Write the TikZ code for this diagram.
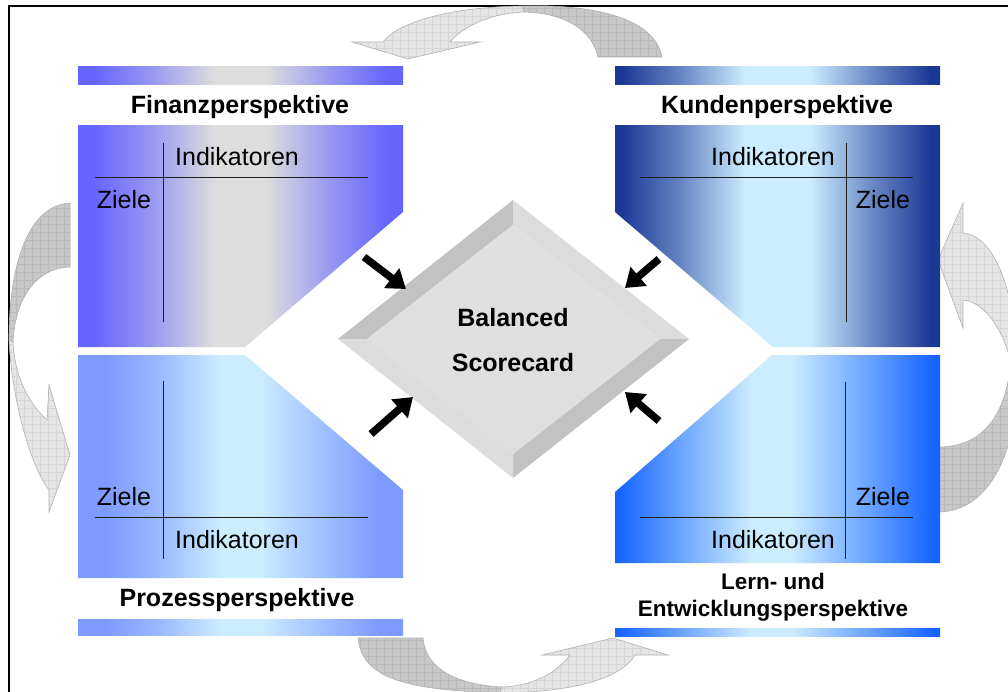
\documentclass[tikz,border=0pt]{standalone}
\usepackage{fontspec}
\setmainfont{Liberation Sans}
\usetikzlibrary{arrows.meta}
\definecolor{fblue}{HTML}{6666FF}
\definecolor{fgray}{HTML}{DDDDDD}
\definecolor{pblue}{HTML}{7C9AFF}
\definecolor{lcyan}{HTML}{CCECFF}
\definecolor{kblue}{HTML}{1C3896}
\definecolor{lblue}{HTML}{1464FF}
\definecolor{arrlight}{HTML}{E5E5E5}
\definecolor{arrlightgrid}{HTML}{D6D6D6}
\definecolor{arrdark}{HTML}{C8C8C8}
\definecolor{arrdarkgrid}{HTML}{B9B9B9}
\definecolor{arredge}{HTML}{B2B2B2}
\definecolor{facetdark}{HTML}{C2C2C2}
\definecolor{facetlight}{HTML}{DCDCDC}
\colorlet{fmix}{fblue!60!fgray}
\colorlet{pmix}{pblue!62!lcyan}
\colorlet{kmix}{kblue!58!lcyan}
\colorlet{lmix}{lblue!58!lcyan}
\pgfdeclarehorizontalshading{finanzsh}{100bp}{color(0bp)=(fblue); color(27.5bp)=(fblue); color(36bp)=(fmix); color(46bp)=(fgray); color(54bp)=(fgray); color(64bp)=(fmix); color(72.5bp)=(fblue); color(100bp)=(fblue)}
\pgfdeclarehorizontalshading{prozesssh}{100bp}{color(0bp)=(pblue); color(29bp)=(pblue); color(37.5bp)=(pmix); color(47bp)=(lcyan); color(53bp)=(lcyan); color(64bp)=(pmix); color(71.5bp)=(pblue); color(100bp)=(pblue)}
\pgfdeclarehorizontalshading{kundensh}{100bp}{color(0bp)=(kblue); color(26bp)=(kblue); color(35bp)=(kmix); color(45bp)=(lcyan); color(55bp)=(lcyan); color(65bp)=(kmix); color(73.5bp)=(kblue); color(100bp)=(kblue)}
\pgfdeclarehorizontalshading{lernsh}{100bp}{color(0bp)=(lblue); color(25.5bp)=(lblue); color(34bp)=(lmix); color(46bp)=(lcyan); color(52bp)=(lcyan); color(65bp)=(lmix); color(74bp)=(lblue); color(100bp)=(lblue)}
\tikzset{
  lbl/.style={font=\fontsize{25}{30}\selectfont, inner sep=0pt},
  ttl/.style={font=\fontsize{25}{30}\selectfont\bfseries, inner sep=0pt},
  tline/.style={line width=1pt, draw=black!88},
  arrout/.style={draw=arredge, line width=0.6pt},
  gridlight/.style={draw=arrlightgrid, line width=0.6pt},
  griddark/.style={draw=arrdarkgrid, line width=0.6pt},
  blackarr/.style={line width=7.5pt, -{Triangle[length=18pt,width=24pt]}},
}
\begin{document}
\begin{tikzpicture}[x=1pt,y=-1pt]
\useasboundingbox (0,0) rectangle (1008,691);
\clip (0,0) rectangle (1008,691);
\fill[white] (0,0) rectangle (1008,691);
% frame
\draw[line width=2pt] (9,700) -- (9,6) -- (1030,6);

% ---------- gray cycle arrows ----------
\def\TopLight{(352,42) -- (383,42) .. controls (398,22) and (450,7) .. (522,6) -- (524,12) .. controls (495,13) and (465,24) .. (450,42) -- (480,42) -- (408,59) -- cycle}
\def\TopDark{(522,6) .. controls (600,4) and (655,20) .. (662,57) -- (598,57) .. controls (592,30) and (565,13) .. (524,12) -- cycle}
\def\LeftDark{(70,203) .. controls (30,205) and (9,260) .. (9,340) -- (13,342) .. controls (15,300) and (35,268) .. (70,267) -- cycle}
\def\LeftLight{(9,340) .. controls (12,400) and (30,465) .. (49,490) -- (49,512) -- (70,455) -- (49,385) -- (47,420) .. controls (25,400) and (14,370) .. (13,342) -- cycle}
\def\BotDark{(358,638) .. controls (362,680) and (410,690) .. (500,693) -- (502,687) .. controls (450,684) and (425,665) .. (423,638) -- cycle}
\def\BotLight{(500,693) .. controls (570,692) and (620,680) .. (635,655) -- (668,655) -- (613,638) -- (542,655) -- (570,655) .. controls (555,675) and (530,686) .. (502,687) -- cycle}
\def\RightLight{(938,260) -- (963,203) -- (963,233) .. controls (995,236) and (1014,290) .. (1018,362) -- (1011,362) .. controls (1003,330) and (985,302) .. (963,300) -- (963,328) -- cycle}
\def\RightDark{(1011,362) .. controls (1005,420) and (980,447) .. (938,447) -- (938,512) .. controls (990,512) and (1020,450) .. (1018,362) -- cycle}

\begin{scope}\clip \TopLight; \fill[arrlight] (330,0) rectangle (700,80); \draw[gridlight, step=8pt] (328,0) grid (704,80); \end{scope}
\draw[arrout] \TopLight;
\begin{scope}\clip \TopDark; \fill[arrdark] (330,0) rectangle (700,80); \draw[griddark, step=8pt] (328,0) grid (704,80); \end{scope}
\draw[arrout] \TopDark;
\begin{scope}\clip \LeftDark; \fill[arrdark] (0,190) rectangle (90,530); \draw[griddark, step=8pt] (0,184) grid (96,536); \end{scope}
\draw[arrout] \LeftDark;
\begin{scope}\clip \LeftLight; \fill[arrlight] (0,190) rectangle (90,530); \draw[gridlight, step=8pt] (0,184) grid (96,536); \end{scope}
\draw[arrout] \LeftLight;
\begin{scope}\clip \BotDark; \fill[arrdark] (340,620) rectangle (700,700); \draw[griddark, step=8pt] (336,616) grid (704,704); \end{scope}
\draw[arrout] \BotDark;
\begin{scope}\clip \BotLight; \fill[arrlight] (340,620) rectangle (700,700); \draw[gridlight, step=8pt] (336,616) grid (704,704); \end{scope}
\draw[arrout] \BotLight;
\begin{scope}\clip \RightLight; \fill[arrlight] (920,190) rectangle (1030,530); \draw[gridlight, step=8pt] (920,184) grid (1032,536); \end{scope}
\draw[arrout] \RightLight;
\begin{scope}\clip \RightDark; \fill[arrdark] (920,190) rectangle (1030,530); \draw[griddark, step=8pt] (920,184) grid (1032,536); \end{scope}
\draw[arrout] \RightDark;

% ---------- panels ----------
% Finanz
\shade[shading=finanzsh] (78,66) rectangle (403,84);
\shade[shading=finanzsh] (78,125) -- (403,125) -- (403,212) -- (245,347) -- (78,347) -- cycle;
% Kunden
\shade[shading=kundensh] (615,66) rectangle (940,84);
\shade[shading=kundensh] (615,125) -- (940,125) -- (940,347) -- (773,347) -- (615,212) -- cycle;
% Prozess
\shade[shading=prozesssh] (78,355) -- (245,355) -- (403,490) -- (403,578) -- (78,578) -- cycle;
\shade[shading=prozesssh] (78,619) rectangle (403,635);
% Lern
\shade[shading=lernsh] (772,355) -- (940,355) -- (940,563) -- (615,563) -- (615,492) -- cycle;
\shade[shading=lernsh] (615,628) rectangle (940,636);

% T lines
\coordinate (f1) at (163,143); \coordinate (f2) at (163,322);
\coordinate (f3) at (95,177); \coordinate (f4) at (368,177);
\draw[tline] (f1) -- (f2); \draw[tline] (f3) -- (f4);
\coordinate (k1) at (846,143); \coordinate (k2) at (846,322);
\coordinate (k3) at (640,177); \coordinate (k4) at (913,177);
\draw[tline] (k1) -- (k2); \draw[tline] (k3) -- (k4);
\coordinate (p1) at (163,381); \coordinate (p2) at (163,559);
\coordinate (p3) at (95,517); \coordinate (p4) at (368,517);
\draw[tline] (p1) -- (p2); \draw[tline] (p3) -- (p4);
\coordinate (l1) at (845,382); \coordinate (l2) at (845,559);
\coordinate (l3) at (640,517); \coordinate (l4) at (913,517);
\draw[tline] (l1) -- (l2); \draw[tline] (l3) -- (l4);

% texts
\node[ttl] (tf) at (240,107) {Finanzperspektive};
\node[ttl] (tk) at (777,107) {Kundenperspektive};
\node[ttl] (tp) at (237,600) {Prozessperspektive};
\node[font=\fontsize{22.5}{27}\selectfont\bfseries, inner sep=0pt, align=center] (tl) at (773,597) {Lern- und\\Entwicklungsperspektive};
\node[lbl] (fi) at (237,157) {Indikatoren};
\node[lbl] (fz) at (124,200) {Ziele};
\node[lbl] (ki) at (773,157) {Indikatoren};
\node[lbl] (kz) at (883,200) {Ziele};
\node[lbl] (pz) at (124,497) {Ziele};
\node[lbl] (pi) at (237,540) {Indikatoren};
\node[lbl] (lz) at (883,497) {Ziele};
\node[lbl] (li) at (773,540) {Indikatoren};

% ---------- diamond ----------
\coordinate (OT) at (513,200); \coordinate (OR) at (689,339);
\coordinate (OB) at (513,478); \coordinate (OL) at (338,339);
\coordinate (IT) at (513,225); \coordinate (IR) at (660,339);
\coordinate (IB) at (513,454); \coordinate (IL) at (367,339);
\fill[facetdark] (OL) -- (OT) -- (IT) -- (IL) -- cycle;
\fill[facetlight] (OT) -- (OR) -- (IR) -- (IT) -- cycle;
\fill[facetdark] (OR) -- (OB) -- (IB) -- (IR) -- cycle;
\fill[facetlight] (OB) -- (OL) -- (IL) -- (IB) -- cycle;
\shade[top color=black!12, middle color=black!4, bottom color=black!13] (IT) -- (IR) -- (IB) -- (IL) -- cycle;
\node[font=\fontsize{25}{45}\selectfont\bfseries, inner sep=0pt, align=center] (bsc) at (513,340.5) {Balanced\\Scorecard};

% black arrows
\coordinate (a1s) at (364,257); \coordinate (a1e) at (406,289);
\coordinate (a2s) at (659,259); \coordinate (a2e) at (625,288);
\coordinate (a3s) at (371,434); \coordinate (a3e) at (413,397);
\coordinate (a4s) at (659,421); \coordinate (a4e) at (625,392);
\draw[blackarr] (a1s) -- (a1e);
\draw[blackarr] (a2s) -- (a2e);
\draw[blackarr] (a3s) -- (a3e);
\draw[blackarr] (a4s) -- (a4e);
\end{tikzpicture}
\end{document}
